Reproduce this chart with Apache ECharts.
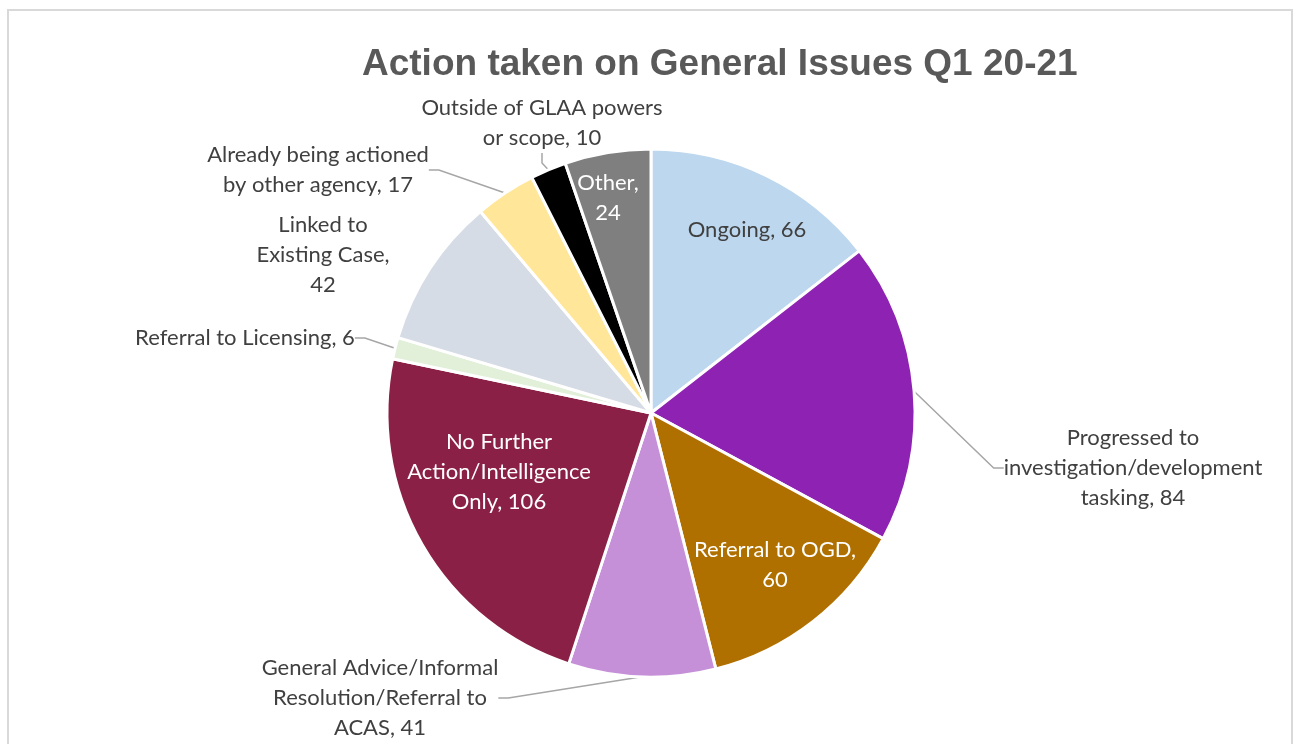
<!DOCTYPE html>
<html>
<head>
<meta charset="utf-8">
<title>Action taken on General Issues Q1 20-21</title>
<script src="https://cdn.jsdelivr.net/npm/echarts@6/dist/echarts.min.js"></script>
<style>
  html, body { margin: 0; padding: 0; background: #fff; }
  .frame {
    position: absolute; left: 7px; top: 9px; width: 1286px; height: 800px;
    border: 2px solid #d9d9d9; box-sizing: border-box;
  }
  #chart { position: absolute; left: 0; top: 0; width: 1298px; height: 744px; }
</style>
</head>
<body>
<div class="frame"></div>
<div id="chart"></div>
<script>
// categories, clockwise from 12 o'clock
const categories = [
  'Ongoing',
  'Progressed to investigation/development tasking',
  'Referral to OGD',
  'General Advice/Informal Resolution/Referral to ACAS',
  'No Further Action/Intelligence Only',
  'Referral to Licensing',
  'Linked to Existing Case',
  'Already being actioned by other agency',
  'Outside of GLAA powers or scope',
  'Other',
];
const values = [66, 84, 60, 41, 106, 6, 42, 17, 10, 24];
// label text as wrapped in the picture, {v} = value
const labelTexts = [
  'Ongoing, {v}',
  'Progressed to\ninvestigation/development\ntasking, {v}',
  'Referral to OGD,\n{v}',
  'General Advice/Informal\nResolution/Referral to\nACAS, {v}',
  'No Further\nAction/Intelligence\nOnly, {v}',
  'Referral to Licensing, {v}',
  'Linked to\nExisting Case,\n{v}',
  'Already being actioned\nby other agency, {v}',
  'Outside of GLAA powers\nor scope, {v}',
  'Other,\n{v}',
];

const colors = ['#bdd7ee', '#8e22b3', '#b07000', '#c590d8', '#8a2045',
  '#e2f0d9', '#d6dce5', '#ffe699', '#000000', '#7f7f7f'];
const insideLabel = [true, false, true, false, true, false, false, false, false, true];
// label centres (px)
const labelSpots = [
  [747, 230], [1133, 468], [775, 565], [380, 698], [499, 472],
  [245, 338], [323, 255], [318, 170], [542, 123], [608, 198],
];

const chart = echarts.init(document.getElementById('chart'));

const seriesData = categories.map((name, i) => ({
  name,
  value: values[i],
  itemStyle: { color: colors[i] },
  label: {
    position: insideLabel[i] ? 'inside' : 'outside',
    color: (insideLabel[i] && i !== 0) ? '#ffffff' : '#404040',
  },
  labelLine: { show: !insideLabel[i] && i !== 6 },
}));

chart.setOption({
  animation: false,
  title: {
    text: 'Action taken on General Issues Q1 20-21',
    left: 357,
    top: 41,
    textStyle: {
      fontFamily: 'Liberation Sans, Arial, sans-serif',
      fontSize: 37,
      fontWeight: 'bold',
      color: '#595959',
    },
  },
  series: [
    {
      type: 'pie',
      center: [651, 413],
      radius: [0, 264],
      startAngle: 90,
      clockwise: true,
      itemStyle: { borderColor: '#ffffff', borderWidth: 3 },
      label: {
        fontFamily: 'Lato, sans-serif',
        fontSize: 22,
        lineHeight: 30,
        align: 'center',
        formatter: (p) => labelTexts[p.dataIndex].replace('{v}', p.value),
      },
      labelLine: {
        lineStyle: { color: '#a6a6a6', width: 1.5 },
        length: 10,
        length2: 10,
      },
      labelLayout: (p) => ({
        x: labelSpots[p.dataIndex][0],
        y: labelSpots[p.dataIndex][1],
        align: 'center',
        verticalAlign: 'middle',
      }),
      data: seriesData,
    },
  ],
});
window.addEventListener('resize', () => { chart.resize(); });
</script>
</body>
</html>
